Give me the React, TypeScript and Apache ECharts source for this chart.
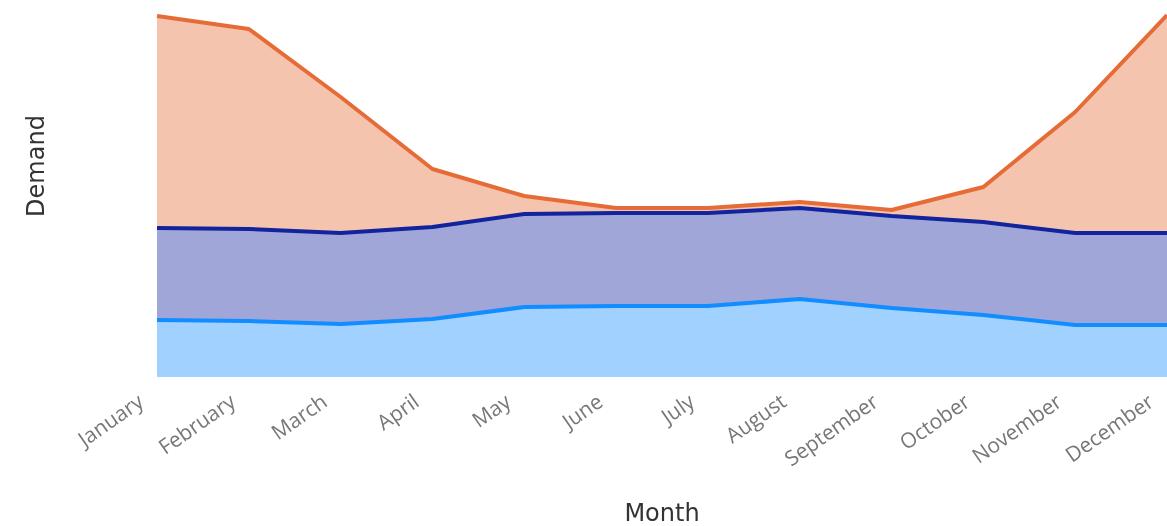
import React, { useEffect, useRef } from "react";
import * as echarts from "echarts";

const months = ["January", "February", "March", "April", "May", "June", "July", "August", "September", "October", "November", "December"];
const seriesA = [57, 56, 53, 58, 70, 71, 71, 78, 69, 62, 52, 52];
const seriesB = [92, 92, 91, 92, 93, 93, 93, 91, 92, 93, 92, 92];
const seriesC = [212, 200, 136, 58, 18, 5, 5, 6, 6, 35, 121, 218];

export default function App() {
  const ref = useRef<HTMLDivElement>(null);
  useEffect(() => {
    const chart = echarts.init(ref.current!, null, { renderer: "svg" });
    const mk = (name: string, data: number[], line: string, fill: string) => ({
      name,
      type: "line",
      stack: "total",
      data,
      symbol: "none",
      lineStyle: { color: line, width: 4 },
      itemStyle: { color: line },
      areaStyle: { color: fill, opacity: 1 },
    });
    chart.setOption({
      animation: false,
      grid: { left: 157, right: 0, top: 7, bottom: 149, containLabel: false, outerBoundsMode: "none" },
      xAxis: {
        type: "category",
        data: months,
        boundaryGap: false,
        axisLine: { show: false },
        axisTick: { show: false },
        axisLabel: {
          rotate: 35,
          margin: 10,
          padding: [0, 20, 0, 0],
          color: "#777777",
          fontSize: 21,
          fontFamily: "Open Sans",
        },
        name: "Month",
        nameLocation: "middle",
        nameGap: 124,
        nameTextStyle: { color: "#333333", fontSize: 24, fontFamily: "DejaVu Sans" },
      },
      yAxis: { type: "value", min: 0, max: 370, show: false },
      graphic: [
        {
          type: "text",
          x: 36,
          y: 166,
          rotation: Math.PI / 2,
          style: { text: "Demand", fill: "#333333", font: "24px 'DejaVu Sans'", align: "center", verticalAlign: "middle" },
        },
      ],
      series: [
        mk("A", seriesA, "#118DFF", "#A0D1FF"),
        mk("B", seriesB, "#12239E", "#A0A7D8"),
        mk("C", seriesC, "#E66C37", "#F5C4AF"),
      ],
    });
    return () => chart.dispose();
  }, []);
  return <div ref={ref} style={{ position: "fixed", left: 0, top: 0, width: 1167, height: 526 }} />;
}
